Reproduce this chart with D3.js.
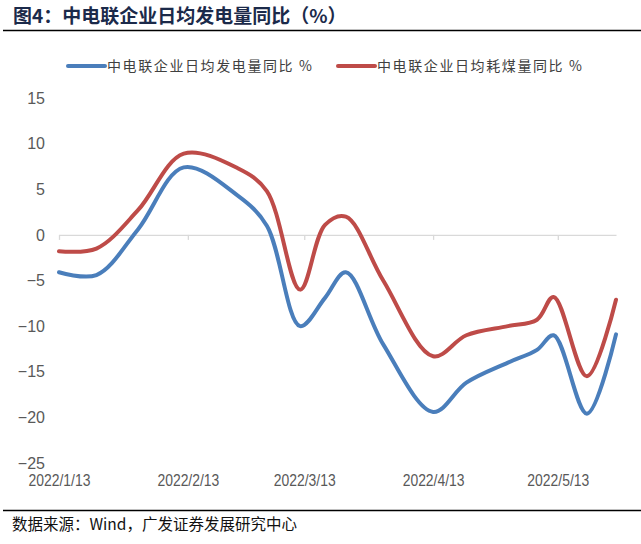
<!DOCTYPE html>
<html>
<head>
<meta charset="utf-8">
<script src="https://cdn.jsdelivr.net/npm/d3@7"></script>
<style>
  html, body { margin: 0; padding: 0; background: #fff; }
  svg { display: block; }
</style>
</head>
<body>
<script>
// ---------- data ----------
const dates = ["2022-01-13","2022-01-22","2022-02-01","2022-02-12","2022-02-25",
               "2022-03-04","2022-03-12","2022-03-18","2022-03-23","2022-04-01","2022-04-13",
               "2022-04-21","2022-05-01","2022-05-08","2022-05-12","2022-05-20","2022-05-27"];
const powerYoY = [-4.1,-4.4,0.6,7.4,4.3,1.0,-10.0,-6.9,-4.1,-12.0,-19.4,-16.2,-14.0,-12.6,-11.0,-19.6,-10.9];
const coalYoY  = [-1.8,-1.5,2.7,8.9,7.3,4.8,-6.0,1.1,2.0,-5.0,-13.3,-11.0,-10.0,-9.3,-6.8,-15.5,-7.1];
const seriesNames = ["中电联企业日均发电量同比 %","中电联企业日均耗煤量同比 %"];
const yTicks = [15,10,5,0,-5,-10,-15,-20,-25];
const xTickDates = ["2022-01-13","2022-02-13","2022-03-13","2022-04-13","2022-05-13"];
const xDomain = ["2022-01-13","2022-05-27"];
const title = "图4：中电联企业日均发电量同比（%）";
const source = "数据来源：Wind，广发证券发展研究中心";
const colors = ["#4A7EBB","#BE4B48"];

// ---------- chart ----------
const W = 641, H = 544;
const parse = d3.timeParse("%Y-%m-%d");
const fmt = d3.timeFormat("%Y/%-m/%-d");
const svg = d3.select("body").append("svg").attr("width", W).attr("height", H);
svg.append("rect").attr("width", W).attr("height", H).attr("fill", "#fff");

const x = d3.scaleTime().domain(xDomain.map(parse)).range([59, 616]);
const y = d3.scaleLinear().domain([-25, 15]).range([463, 98]);

// title
svg.append("text").attr("x", 13).attr("y", 22.5)
  .attr("font-family", "'Noto Sans CJK SC', sans-serif").attr("font-weight", "bold")
  .attr("font-size", 19).attr("fill", "#1B2A4A").text(title);
svg.append("line").attr("x1", 3).attr("x2", W).attr("y1", 30.5).attr("y2", 30.5)
  .attr("stroke", "#000").attr("stroke-width", 1.5);

// legend
const lg = svg.append("g");
[[68, 0], [338, 1]].forEach(([lx, i]) => {
  lg.append("line").attr("x1", lx).attr("x2", lx + 37).attr("y1", 66).attr("y2", 66)
    .attr("stroke", colors[i]).attr("stroke-width", 4).attr("stroke-linecap", "round");
  lg.append("text").attr("x", lx + 39).attr("y", 71)
    .attr("font-family", "'Noto Sans CJK SC', sans-serif").attr("font-size", 14)
    .attr("letter-spacing", 1.6).attr("fill", "#404040").text(seriesNames[i]);
});

// zero axis line with ticks
const zeroAxis = svg.append("g").attr("transform", `translate(0,${y(0)})`)
  .call(d3.axisBottom(x).tickValues(xTickDates.map(parse)).tickSize(5).tickSizeOuter(0).tickFormat(""));
zeroAxis.selectAll("path,line").attr("stroke", "#D9D9D9").attr("stroke-width", 1.3);

// y axis labels
const yAxis = svg.append("g").attr("transform", "translate(59,0)")
  .call(d3.axisLeft(y).tickValues(yTicks).tickSize(0).tickPadding(14).tickFormat(d3.format("d")));
yAxis.select(".domain").remove();
yAxis.selectAll("text").attr("font-family", "'Liberation Sans', Arial, sans-serif")
  .attr("font-size", 16).attr("fill", "#595959");

// x axis labels (low position)
const xAxis = svg.append("g").attr("transform", "translate(0,475)")
  .call(d3.axisBottom(x).tickValues(xTickDates.map(parse)).tickSize(0).tickPadding(0).tickFormat(fmt));
xAxis.select(".domain").remove();
xAxis.selectAll("text").attr("font-family", "'Liberation Sans', Arial, sans-serif")
  .attr("font-size", 16).attr("fill", "#595959").attr("transform", "scale(0.87,1)");

// lines
const line = d3.line().x(d => x(d.date)).y(d => y(d.v)).curve(d3.curveCatmullRom.alpha(0.5));
[powerYoY, coalYoY].forEach((vals, i) => {
  const data = dates.map((d, j) => ({ date: parse(d), v: vals[j] }));
  svg.append("path").datum(data).attr("d", line).attr("fill", "none")
    .attr("stroke", colors[i]).attr("stroke-width", 4).attr("stroke-linejoin", "round").attr("stroke-linecap", "round");
});

// footer
svg.append("line").attr("x1", 3).attr("x2", W).attr("y1", 510.5).attr("y2", 510.5)
  .attr("stroke", "#000").attr("stroke-width", 1.5);
svg.append("text").attr("x", 12).attr("y", 530)
  .attr("font-family", "'Noto Sans CJK SC', sans-serif").attr("font-size", 15.5)
  .attr("fill", "#111").text(source);
</script>
</body>
</html>
